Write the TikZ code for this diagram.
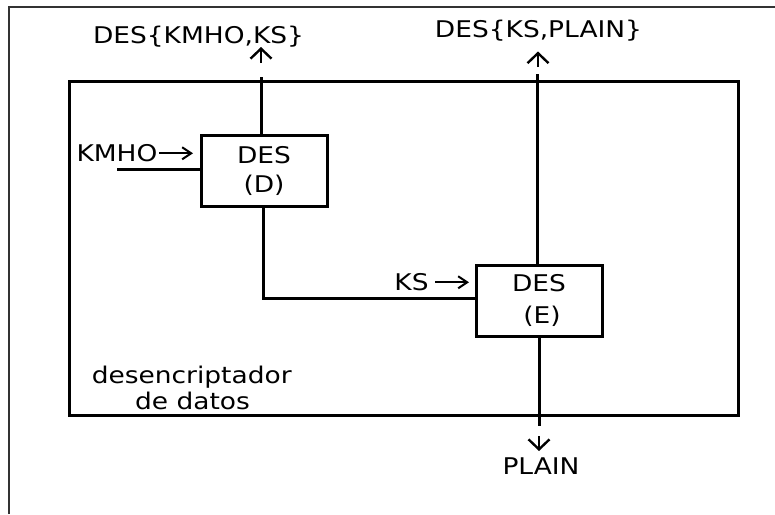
\documentclass[tikz,border=0pt]{standalone}
\usepackage{fontspec}
\setmainfont{DejaVu Sans}[FakeStretch=1.15]
\usetikzlibrary{arrows.meta}
\begin{document}
\begin{tikzpicture}[x=1pt,y=-1pt,
  wire/.style={line width=3pt},
  boxnode/.style={draw,line width=3pt,inner sep=0pt,minimum width=126pt,minimum height=71pt,align=center},
  lab/.style={inner sep=0pt,anchor=base,font=\fontsize{23}{27}\selectfont},
  glyph/.style={line width=2.4pt,-{Straight Barb[length=10pt,width=21pt,line width=2.4pt]}},
  small/.style={line width=2pt,-{Straight Barb[length=9pt,width=12pt,line width=2pt]}},
  frame/.style={line width=2pt,draw=black!80}]
\useasboundingbox (0,0) rectangle (775,514);
% outer frame
\coordinate (fbl) at (9,514);
\coordinate (ftl) at (9,7);
\coordinate (ftr) at (775,7);
\draw[frame] (fbl) -- (ftl) -- (ftr);
% main rectangle
\node[draw,line width=3pt,inner sep=0pt,minimum width=669pt,minimum height=334pt] (R) at (403.5,248) {};
% boxes
\node[boxnode,font=\fontsize{23}{29}\selectfont] (D) at (264,170.5) {DES\\(D)};
\node[boxnode,font=\fontsize{23}{32}\selectfont] (E) at (539,300.5) {DES\\\hspace*{6pt}(E)};
% texts
\node[lab] (t1) at (198.5,43) {DES\{KMHO,KS\}};
\node[lab] (t2) at (538.5,37.7) {DES\{KS,PLAIN\}};
\node[lab] (kmho) at (117,161.7) {KMHO};
\node[lab] (ks) at (411.5,290.7) {KS};
\node[lab] (plain) at (541,474) {PLAIN};
\node[lab] (desc1) at (191.7,383) {desencriptador};
\node[lab] (desc2) at (192.5,409) {de datos};
% coordinates
\coordinate (d1) at (261,77);
\coordinate (a1s) at (261,63);
\coordinate (a1e) at (261,47);
\coordinate (e1) at (537,74);
\coordinate (a2s) at (538,67);
\coordinate (a2e) at (538,51.5);
\coordinate (e2) at (539,426);
\coordinate (a3s) at (539,436);
\coordinate (a3e) at (539,451);
\coordinate (bend) at (263,298);
\coordinate (kin) at (117,169.5);
\coordinate (k1s) at (159,153.3);
\coordinate (k1e) at (193,153.3);
\coordinate (k2s) at (435,282.3);
\coordinate (k2e) at (469,282.3);
% connectors
\draw[wire] (D.north -| d1) -- (d1);
\draw[glyph] (a1s) -- (a1e);
\draw[wire] (E.north -| e1) -- (e1);
\draw[glyph] (a2s) -- (a2e);
\draw[wire] (E.south -| e2) -- (e2);
\draw[glyph] (a3s) -- (a3e);
\draw[wire] (D.south -| bend) -- (bend) -- (bend -| E.west);
\draw[wire] (kin) -- (kin -| D.west);
\draw[small] (k1s) -- (k1e);
\draw[small] (k2s) -- (k2e);
\end{tikzpicture}
\end{document}
